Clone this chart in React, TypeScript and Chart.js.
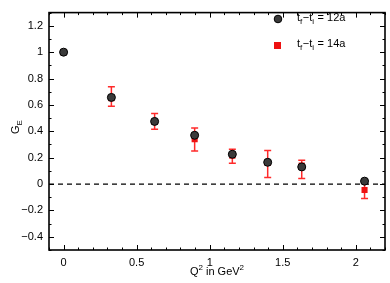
import React, { useEffect, useRef } from "react";
import { Chart, registerables } from "chart.js";

Chart.register(...registerables);

// Q^2 values (GeV^2)
const q2 = [0, 0.327, 0.623, 0.897, 1.155, 1.397, 1.63, 2.06];
// G_E for t_f - t_i = 12a
const ge12a = [1.0, 0.657, 0.475, 0.37, 0.226, 0.165, 0.13, 0.022];
// G_E for t_f - t_i = 14a
const ge14a = [1.0, 0.65, 0.47, 0.34, 0.215, 0.16, 0.14, -0.045];
const err14aHigh = [1.0, 0.738, 0.535, 0.425, 0.264, 0.254, 0.18, 0.02];
const err14aLow = [1.0, 0.59, 0.415, 0.25, 0.158, 0.05, 0.042, -0.11];

const xTicks = [0, 0.5, 1, 1.5, 2];
const yTicks = [-0.4, -0.2, 0, 0.2, 0.4, 0.6, 0.8, 1, 1.2];
const xRange = [-0.1, 2.2];
const yRange = [-0.5, 1.3];
const xMinorStep = 0.1;
const yMinorStep = 0.1;
const zeroLine = 0;

const legendItems = [
  { sub1: "f", sub2: "i", tail: " = 12a" },
  { sub1: "f", sub2: "i", tail: " = 14a" },
];

const FONT = "'Liberation Sans', Arial, sans-serif";
const fmt = (v: number) => String(v).replace("-", "\u2212");

const decorPlugin = {
  id: "decor",
  beforeDatasetsDraw(chart: any) {
    const { ctx, chartArea: a, scales } = chart;
    const x = scales.x;
    const y = scales.y;
    ctx.save();
    ctx.strokeStyle = "#000";
    ctx.lineWidth = 1.2;
    ctx.setLineDash([5, 4]);
    const yz = y.getPixelForValue(zeroLine);
    ctx.beginPath();
    ctx.moveTo(a.left, yz);
    ctx.lineTo(a.right, yz);
    ctx.stroke();
    ctx.setLineDash([]);
    ctx.strokeStyle = "#ff2a2a";
    ctx.lineWidth = 1.5;
    q2.forEach((q, i) => {
      const px = x.getPixelForValue(q);
      const top = y.getPixelForValue(err14aHigh[i]);
      const bot = y.getPixelForValue(err14aLow[i]);
      if (bot - top < 1) return;
      ctx.beginPath();
      ctx.moveTo(px, top);
      ctx.lineTo(px, bot);
      ctx.moveTo(px - 3.5, top);
      ctx.lineTo(px + 3.5, top);
      ctx.moveTo(px - 3.5, bot);
      ctx.lineTo(px + 3.5, bot);
      ctx.stroke();
    });
    ctx.restore();
  },
  afterDraw(chart: any) {
    const { ctx, chartArea: a, scales } = chart;
    const x = scales.x;
    const y = scales.y;
    ctx.save();
    ctx.strokeStyle = "#000";
    ctx.lineWidth = 1;
    ctx.beginPath();
    const majorLen = 5;
    const minorLen = 2.5;
    for (let v = Math.ceil(xRange[0] / xMinorStep) * xMinorStep; v <= xRange[1] + 1e-9; v += xMinorStep) {
      const px = Math.round(x.getPixelForValue(v)) + 0.5;
      const isMajor = xTicks.some((t) => Math.abs(t - v) < 1e-6);
      const len = isMajor ? majorLen : minorLen;
      ctx.moveTo(px, a.bottom);
      ctx.lineTo(px, a.bottom - len);
      ctx.moveTo(px, a.top);
      ctx.lineTo(px, a.top + len);
    }
    for (let v = Math.ceil(yRange[0] / yMinorStep) * yMinorStep; v <= yRange[1] + 1e-9; v += yMinorStep) {
      const py = Math.round(y.getPixelForValue(v)) + 0.5;
      const isMajor = yTicks.some((t) => Math.abs(t - v) < 1e-6);
      const len = isMajor ? majorLen : minorLen;
      ctx.moveTo(a.left, py);
      ctx.lineTo(a.left + len, py);
      ctx.moveTo(a.right, py);
      ctx.lineTo(a.right - len, py);
    }
    ctx.stroke();
    ctx.lineWidth = 1.6;
    ctx.strokeRect(a.left, a.top, a.right - a.left, a.bottom - a.top);

    ctx.fillStyle = "#000";
    ctx.textBaseline = "alphabetic";
    ctx.textAlign = "left";
    const lx = 297;
    const rows = [20.5, 47];
    legendItems.forEach((it, i) => {
      const by = rows[i];
      let cx = lx;
      ctx.font = `11px ${FONT}`;
      ctx.fillText("t", cx, by);
      cx += ctx.measureText("t").width;
      ctx.font = `8px ${FONT}`;
      ctx.fillText(it.sub1, cx, by + 3);
      cx += ctx.measureText(it.sub1).width + 0.5;
      ctx.font = `11px ${FONT}`;
      ctx.fillText("\u2212t", cx, by);
      cx += ctx.measureText("\u2212t").width;
      ctx.font = `8px ${FONT}`;
      ctx.fillText(it.sub2, cx, by + 3);
      cx += ctx.measureText(it.sub2).width + 0.5;
      ctx.font = `11px ${FONT}`;
      ctx.fillText(it.tail, cx, by);
    });
    ctx.beginPath();
    ctx.arc(278, 19, 3.8, 0, Math.PI * 2);
    ctx.fillStyle = "#3a3a3a";
    ctx.fill();
    ctx.lineWidth = 1;
    ctx.strokeStyle = "#000";
    ctx.stroke();
    ctx.fillStyle = "#ee1111";
    ctx.fillRect(274, 42, 7, 7);

    ctx.fillStyle = "#000";
    const xParts: [string, boolean][] = [["Q", false], ["2", true], [" in GeV", false], ["2", true]];
    let w = 0;
    xParts.forEach(([s, sup]) => {
      ctx.font = sup ? `8px ${FONT}` : `11px ${FONT}`;
      w += ctx.measureText(s).width;
    });
    let cx = (a.left + a.right) / 2 - w / 2;
    const bx = 275;
    xParts.forEach(([s, sup]) => {
      ctx.font = sup ? `8px ${FONT}` : `11px ${FONT}`;
      ctx.fillText(s, cx, sup ? bx - 5 : bx);
      cx += ctx.measureText(s).width;
    });
    ctx.save();
    ctx.translate(19, 127);
    ctx.rotate(-Math.PI / 2);
    ctx.font = `11px ${FONT}`;
    const gw = ctx.measureText("G").width;
    ctx.font = `8px ${FONT}`;
    const ew = ctx.measureText("E").width;
    const sx = -(gw + ew) / 2;
    ctx.font = `11px ${FONT}`;
    ctx.fillText("G", sx, 0);
    ctx.font = `8px ${FONT}`;
    ctx.fillText("E", sx + gw, 3);
    ctx.restore();

    ctx.restore();
  },
};

export default function App() {
  const ref = useRef<HTMLCanvasElement | null>(null);
  useEffect(() => {
    if (!ref.current) return;
    const chart = new Chart(ref.current, {
      type: "scatter",
      data: {
        datasets: [
          {
            label: "12a",
            data: q2.map((q, i) => ({ x: q, y: ge12a[i] })),
            pointStyle: "circle",
            pointRadius: 4,
            pointBackgroundColor: "#3a3a3a",
            pointBorderColor: "#000",
            pointBorderWidth: 1,
          },
          {
            label: "14a",
            data: q2.map((q, i) => ({ x: q, y: ge14a[i] })),
            pointStyle: "rect",
            pointRadius: 4.3,
            pointBackgroundColor: "#ee1111",
            pointBorderColor: "#ee1111",
            pointBorderWidth: 0,
          },
        ],
      },
      options: {
        animation: false,
        responsive: false,
        maintainAspectRatio: false,
        layout: { padding: { left: 0, right: 5, top: 9, bottom: 0 } },
        plugins: { legend: { display: false }, tooltip: { enabled: false } },
        scales: {
          x: {
            type: "linear",
            min: xRange[0],
            max: xRange[1],
            grid: { display: false, drawTicks: false },
            border: { display: false },
            ticks: {
              padding: 6,
              color: "#000",
              font: { family: FONT, size: 11 },
              callback: (v: any) => fmt(Number(v)),
            },
            afterBuildTicks: (s: any) => {
              s.ticks = xTicks.map((v) => ({ value: v }));
            },
            afterFit: (s: any) => {
              s.height = 33;
            },
          },
          y: {
            type: "linear",
            min: yRange[0],
            max: yRange[1],
            grid: { display: false, drawTicks: false },
            border: { display: false },
            ticks: {
              padding: 6,
              color: "#000",
              font: { family: FONT, size: 11 },
              callback: (v: any) => fmt(Number(v)),
            },
            afterBuildTicks: (s: any) => {
              s.ticks = yTicks.map((v) => ({ value: v }));
            },
            afterFit: (s: any) => {
              s.width = 49;
            },
          },
        },
      },
      plugins: [decorPlugin],
    });
    return () => chart.destroy();
  }, []);
  return (
    <div style={{ position: "absolute", left: 0, top: 0, width: 390, height: 283, background: "#fff" }}>
      <canvas ref={ref} width={390} height={283} style={{ width: 390, height: 283 }} />
    </div>
  );
}
